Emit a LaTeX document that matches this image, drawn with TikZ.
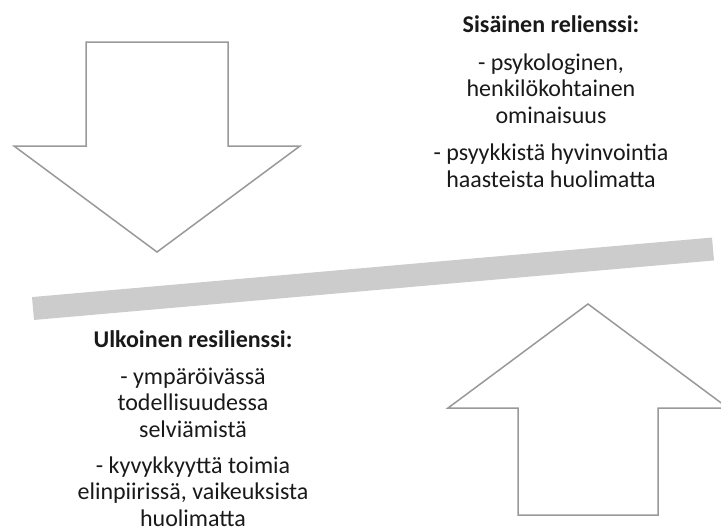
\documentclass[tikz,border=0pt]{standalone}
\usepackage{fontspec}
\setmainfont{Carlito}
\tikzset{
  bigarrow/.style={draw=black!40, line width=1.5pt, fill=white, line join=miter},
  beam/.style={line width=23pt, draw=black!20},
  para/.style={align=center, inner sep=0pt, text=black!90,
    font=\fontsize{24}{26.3}\selectfont},
}
\begin{document}
\begin{tikzpicture}[x=1pt, y=-1pt]
      \useasboundingbox (0,0) rectangle (721,531);
      % arrows
      \draw[bigarrow] (86,42) -- (228,42) -- (228,146) -- (300,146)
        -- (157,252) -- (14,146) -- (86,146) -- cycle;
      \draw[bigarrow] (518,515) -- (658,515) -- (658,408) -- (728,408)
        -- (588,304) -- (448,408) -- (518,408) -- cycle;
      % beam
      \coordinate (beamL) at (33,308.5);
      \coordinate (beamR) at (713,249);
      \draw[beam] (beamL) -- (beamR);
      % texts (base = last line)
      \node[para, anchor=base] (inner) at (551,32) {\bfseries Sisäinen relienssi:};
      \node[para, anchor=base] (innerA) at (551,123) {- psykologinen,\\henkilökohtainen\\ominaisuus};
      \node[para, anchor=base] (innerB) at (551,187) {- psyykkistä hyvinvointia\\haasteista huolimatta};
      \node[para, anchor=base] (outer) at (193,347) {\bfseries Ulkoinen resilienssi:};
      \node[para, anchor=base] (outerA) at (193,437) {- ympäröivässä\\todellisuudessa\\selviämistä};
      \node[para, anchor=base] (outerB) at (193,526) {- kyvykkyyttä toimia\\elinpiirissä, vaikeuksista\\huolimatta};
    \end{tikzpicture}
\end{document}
